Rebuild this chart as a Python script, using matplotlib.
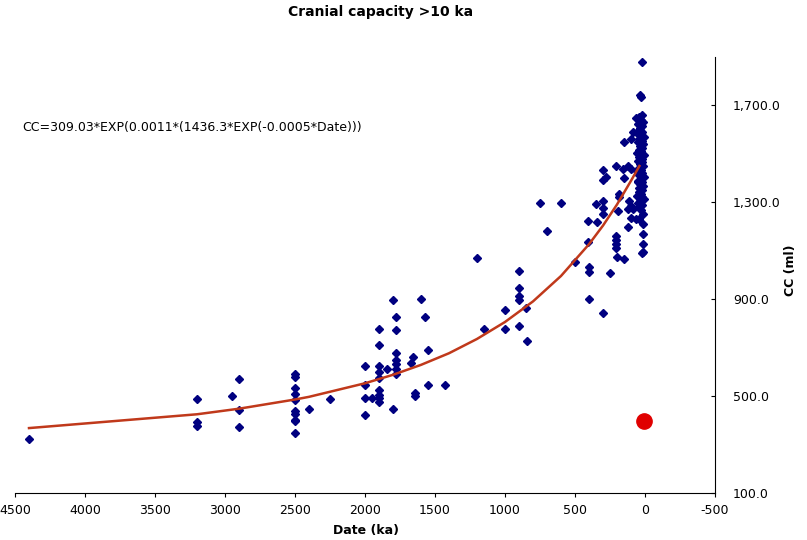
import matplotlib
matplotlib.use('Agg')
import matplotlib.pyplot as plt
from matplotlib.ticker import FuncFormatter

plt.rcParams['font.family'] = 'DejaVu Sans'
plt.rcParams['axes.unicode_minus'] = False

# ======== Data ========
date_ka = [4400,
           3200, 3200, 3200, 2950, 2900, 2900, 2900,
           2500, 2500, 2500, 2500, 2500, 2500, 2500, 2500, 2500, 2500,
           2400, 2250,
           2000, 2000, 2000, 2000, 1950,
           1900, 1900, 1900, 1900, 1900, 1900, 1900, 1900, 1900, 1840,
           1800, 1800, 1780, 1780, 1780, 1780, 1780, 1780, 1780,
           1670, 1655, 1643, 1643, 1600, 1575, 1550, 1550, 1430,
           1200, 1150, 1000, 1000, 900, 900, 900, 900, 900, 850, 843,
           750, 700, 600, 500, 410, 410, 400, 400, 400, 350, 346, 303, 303, 303, 300,
           303, 279, 303, 250, 207, 207, 207, 207, 207, 200, 196, 184, 184, 160, 153,
           148, 124, 124, 124, 112, 100, 100, 100, 100, 89, 64, 64, 53, 53, 41, 21,
           17, 17, 17, 17, 17, 36, 30,
           20, 40, 30, 15, 50, 25, 35, 45, 20, 60, 30, 10, 40, 25, 50, 15, 35, 20,
           45, 30, 60, 10, 40, 25, 50, 20, 35, 15, 45, 30, 55, 20, 40, 10, 30, 50,
           25, 35, 15, 45, 20, 40, 30, 60, 25, 10, 35, 50, 20, 40, 30,
           21, 153, 89]
cc_ml = [322,
         490, 393, 377, 500, 572, 443, 372,
         590, 579, 535, 510, 486, 439, 428, 403, 396, 348,
         445, 490,
         623, 546, 491, 424, 491,
         775, 709, 623, 598, 573, 524, 505, 491, 475, 612,
         897, 445, 826, 774, 678, 650, 634, 612, 590,
         638, 661, 513, 499, 901, 826, 689, 546, 546,
         1070, 779, 856, 775, 1018, 947, 912, 895, 789, 864, 729,
         1299, 1183, 1299, 1055, 1221, 1137, 1032, 1014, 901, 1293, 1217, 1306, 1276, 1251, 845,
         1433, 1405, 1391, 1009, 1450, 1162, 1144, 1128, 1112, 1076, 1265, 1334, 1320, 1436, 1066,
         1402, 1450, 1199, 1272, 1306, 1436, 1286, 1237, 1560, 1272, 1231, 1649, 1327, 1382, 1231, 1089,
         1251, 1210, 1169, 1130, 1093, 1745, 1734,
         1660, 1652, 1640, 1630, 1625, 1615, 1605, 1598, 1590, 1585, 1578, 1570, 1562, 1555, 1548, 1540, 1532, 1525,
         1518, 1510, 1502, 1495, 1488, 1480, 1472, 1465, 1458, 1450, 1442, 1435, 1428, 1420, 1412, 1405, 1398, 1390,
         1382, 1375, 1368, 1360, 1350, 1342, 1335, 1328, 1320, 1312, 1305, 1298, 1290, 1282, 1270,
         1880, 1550, 1590]

# Fitted trend
fit_date = [4400, 3200, 2900, 2500, 2400, 2000, 1800, 1600, 1400, 1200, 1000, 800, 600, 400, 300, 200, 100, 40]
fit_cc = [368, 425, 448, 486, 497, 553, 588, 629, 677, 736, 806, 891, 996, 1127, 1204, 1291, 1389, 1450]

# Single highlighted point
red_date = [10]
red_cc = [398]

x_ticks = [4500, 4000, 3500, 3000, 2500, 2000, 1500, 1000, 500, 0, -500]
y_ticks = [100, 500, 900, 1300, 1700]

# ======== Figure ========
fig = plt.figure(figsize=(8.07, 5.40), dpi=100)
ax = fig.add_axes([15 / 807, 47 / 540, 700 / 807, 436 / 540])

ax.plot(date_ka, cc_ml, linestyle='none', marker='D', markersize=4.0,
        color='#000080', zorder=2)
ax.plot(fit_date, fit_cc, color='#C0391B', linewidth=1.8, zorder=3)
ax.plot(red_date, red_cc, linestyle='none', marker='o', markersize=11,
        color='#E00000', zorder=4)

ax.set_xlim(4500, -500)
ax.set_ylim(100, 1900)
ax.set_xticks(x_ticks)
ax.set_yticks(y_ticks)
ax.yaxis.set_major_formatter(FuncFormatter(lambda v, p: f"{v:,.1f}"))

ax.spines['top'].set_visible(False)
ax.spines['left'].set_visible(False)
ax.yaxis.tick_right()
ax.tick_params(axis='y', direction='in', length=3, labelsize=9, pad=13)
ax.tick_params(axis='x', direction='out', length=3, labelsize=9, pad=5)

ax.set_xlabel("Date (ka)", fontsize=9, fontweight='bold')
ax.xaxis.set_label_coords((366 - 15) / 700, -0.07)
ax.set_ylabel("CC (ml)", fontsize=9, fontweight='bold')
ax.yaxis.set_label_position('right')
ax.yaxis.set_label_coords((784 - 15) / 700, 0.511)
ax.yaxis.label.set_rotation(90)

fig.text(381 / 807, 1 - 12 / 540, "Cranial capacity >10 ka", ha='center', va='center',
         fontsize=10, fontweight='bold')
fig.text(22 / 807, 1 - 128 / 540, "CC=309.03*EXP(0.0011*(1436.3*EXP(-0.0005*Date)))",
         ha='left', va='center', fontsize=9)

plt.savefig("out.png", dpi=100)
